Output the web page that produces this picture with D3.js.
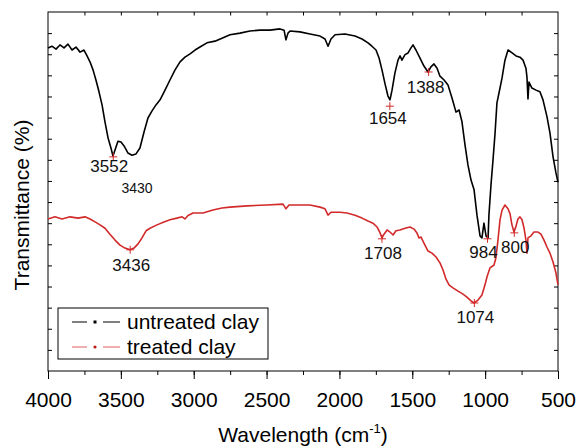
<!DOCTYPE html>
<html>
<head>
<meta charset="utf-8">
<script src="https://cdn.jsdelivr.net/npm/d3@7/dist/d3.min.js"></script>
<style>
  html, body { margin: 0; padding: 0; background: #fff; }
  svg { display: block; font-family: "Liberation Sans", Arial, sans-serif; }
</style>
</head>
<body>
<svg id="chart" width="576" height="446"></svg>
<script>
// FTIR spectra: wavenumber (cm-1) and transmittance (a.u.)
const untreatedWave = [4000,3973,3945,3918,3890,3863,3835,3808,3780,3753,3732,3712,3691,3671,3650,3629,3609,3588,3568,3554,3540,3520,3499,3478,3451,3424,3396,3369,3341,3314,3286,3259,3231,3197,3163,3128,3094,3060,3025,2991,2957,2909,2854,2806,2751,2682,2614,2545,2476,2408,2380,2367,2353,2339,2271,2202,2133,2099,2078,2058,2030,1962,1893,1845,1804,1777,1749,1728,1708,1687,1667,1653,1639,1619,1598,1584,1571,1550,1529,1509,1495,1475,1447,1420,1392,1372,1351,1330,1310,1282,1255,1227,1200,1179,1159,1138,1118,1097,1076,1056,1035,1022,1008,994,980,974,960,946,932,919,898,884,864,843,815,788,761,740,720,713,706,699,679,651,624,603,575,555,534,514,500];
const untreatedT = [76.5,76.9,76.2,77.2,76.5,77.4,76.0,76.7,75.5,76.0,74.6,73.2,71.3,68.9,66.1,63.0,59.0,55.2,52.8,50.9,52.3,54.4,54.2,53.3,51.6,51.1,51.4,52.8,56.6,59.9,61.6,63.0,64.2,66.5,68.9,71.3,73.2,74.3,75.1,76.0,76.7,77.7,78.1,78.8,79.6,80.0,80.5,80.7,80.7,81.0,80.7,78.4,80.0,80.5,80.3,79.8,79.3,78.6,76.9,78.6,79.6,79.8,79.3,78.6,77.7,76.9,76.0,74.1,71.3,68.0,65.1,64.2,66.5,70.6,73.6,74.6,73.6,74.9,75.3,76.5,77.2,76.0,74.1,72.2,70.8,72.0,72.7,71.7,69.8,68.9,67.7,64.6,61.3,61.8,59.0,53.5,48.8,45.2,42.9,36.9,32.0,31.5,35.0,32.0,31.5,36.9,44.0,50.0,56.3,63.5,67.0,69.4,73.6,76.0,75.3,74.6,74.3,73.6,71.7,69.6,64.4,68.4,67.0,66.5,66.1,64.2,60.1,56.3,50.7,46.9,44.7];

const treatedWave = [4000,3952,3904,3849,3794,3746,3712,3677,3643,3609,3575,3540,3506,3472,3437,3410,3382,3355,3327,3300,3252,3204,3163,3115,3080,3060,3039,3005,2936,2868,2806,2751,2634,2497,2387,2367,2346,2271,2202,2133,2099,2078,2058,1996,1948,1893,1845,1804,1770,1742,1721,1708,1694,1673,1653,1632,1612,1584,1550,1516,1488,1468,1454,1440,1420,1392,1365,1337,1310,1289,1269,1248,1221,1186,1152,1125,1097,1076,1049,1022,1001,987,967,939,926,912,898,884,864,843,829,816,802,788,775,761,747,733,720,713,706,685,665,637,617,596,575,555,534,514,500];
const treatedT = [36.0,36.5,36.0,36.5,36.2,36.5,36.0,35.3,34.6,33.8,32.4,31.0,29.8,29.1,28.7,29.1,30.1,31.5,33.2,33.8,34.6,35.3,35.8,36.2,36.5,36.0,36.8,37.4,37.4,38.1,38.6,38.8,39.1,39.3,39.5,38.4,39.3,39.3,39.3,38.8,38.4,36.9,37.6,37.6,37.4,36.9,36.2,35.5,35.0,34.1,32.7,31.5,32.4,33.4,32.9,32.2,33.2,33.4,33.8,34.1,33.6,32.7,31.5,31.7,30.3,28.4,27.9,27.0,25.6,23.9,21.8,20.4,19.7,18.9,18.2,17.5,16.6,16.1,16.8,18.0,20.4,22.3,24.4,25.1,26.8,31.0,35.8,38.1,39.3,38.4,37.2,34.6,32.9,34.3,36.0,36.5,35.8,33.8,31.0,27.9,31.5,32.0,32.9,32.9,32.4,31.0,29.3,27.9,25.8,23.2,20.4];

// Assigned bands: wavenumber and transmittance at the marker
const untreatedPeakWave = [3552, 1654, 1388, 984];
const untreatedPeakT = [50.7, 62.7, 70.8, 31.3];
const treatedPeakWave = [3436, 1708, 1074, 800];
const treatedPeakT = [28.7, 31.3, 16.1, 32.7];
// band label placed under the broad OH minimum without a marker
const extraLabelWave = [3430];
const extraLabelT = [51.1];

const xTicks = [4000, 3500, 3000, 2500, 2000, 1500, 1000, 500];
const seriesNames = ["untreated clay", "treated clay"];

// ---- layout & style ----
const margin = { left: 48, top: 12, right: 18, bottom: 75 };
const W = 576, H = 446;
const iw = W - margin.left - margin.right;   // 510
const ih = H - margin.top - margin.bottom;   // 359
const black = "#000000";
const red = "#d22a2a";
const labelFont = 17;

const svg = d3.select("#chart");
const g = svg.append("g").attr("transform", `translate(${margin.left},${margin.top})`);

const x = d3.scaleLinear().domain([4000, 500]).range([0, iw]);
const y = d3.scaleLinear().domain([0, 85]).range([ih, 0]);

// frame
g.append("rect").attr("x", 0).attr("y", 0).attr("width", iw).attr("height", ih)
  .attr("fill", "none").attr("stroke", "#000").attr("stroke-width", 1);

// bottom axis: major labelled ticks + minor ticks, outward
const minorX = d3.range(4000, 499, -250);
g.append("g").attr("transform", `translate(0,${ih})`)
  .call(d3.axisBottom(x).tickValues(minorX).tickSize(4).tickFormat(""))
  .call(a => a.select(".domain").remove());
const bottomAxis = g.append("g").attr("transform", `translate(0,${ih})`)
  .call(d3.axisBottom(x).tickValues(xTicks).tickSize(8).tickPadding(13).tickFormat(d3.format("d")));
bottomAxis.select(".domain").remove();
bottomAxis.selectAll("text").attr("font-size", 21).attr("font-family", "Liberation Sans, Arial, sans-serif").attr("fill", "#000");

// top axis: inward ticks
g.append("g")
  .call(d3.axisTop(x).tickValues(minorX.slice(1, -1)).tickSize(-3.5).tickFormat(""))
  .call(a => a.select(".domain").remove());

// left and right axes: inward ticks, no labels
const yTickVals = d3.range(5, 85, 5);
g.append("g")
  .call(d3.axisLeft(y).tickValues(yTickVals).tickSize(-4).tickFormat(""))
  .call(a => a.select(".domain").remove());
g.append("g").attr("transform", `translate(${iw},0)`)
  .call(d3.axisRight(y).tickValues(yTickVals).tickSize(-4).tickFormat(""))
  .call(a => a.select(".domain").remove());

// spectra
const line = d3.line().x(d => x(d[0])).y(d => y(d[1])).curve(d3.curveLinear);
const untreated = untreatedWave.map((w, i) => [w, untreatedT[i]]);
const treated = treatedWave.map((w, i) => [w, treatedT[i]]);

g.append("path").datum(treated).attr("d", line)
  .attr("fill", "none").attr("stroke", red).attr("stroke-width", 1.6).attr("stroke-linejoin", "round");
g.append("path").datum(untreated).attr("d", line)
  .attr("fill", "none").attr("stroke", black).attr("stroke-width", 1.6).attr("stroke-linejoin", "round");

// band markers (+) and labels
const labelNudge = {
  3552: [-4, 15], 1654: [-2, 18], 1388: [-3, 21], 984: [-4, 19],
  3436: [1, 21], 1708: [1, 20], 1074: [1, 20], 800: [1, 20]
};
const peaks = untreatedPeakWave.map((w, i) => ({ w, t: untreatedPeakT[i] }))
  .concat(treatedPeakWave.map((w, i) => ({ w, t: treatedPeakT[i] })));

const mk = g.append("g").attr("stroke", red).attr("stroke-width", 1);
peaks.forEach(p => {
  const px = x(p.w), py = y(p.t);
  mk.append("line").attr("x1", px - 4).attr("x2", px + 4).attr("y1", py).attr("y2", py);
  mk.append("line").attr("x1", px).attr("x2", px).attr("y1", py - 4).attr("y2", py + 4);
  const [dx, dy] = labelNudge[p.w];
  g.append("text").attr("x", px + dx).attr("y", py + dy)
    .attr("text-anchor", "middle").attr("font-size", labelFont).attr("fill", "#111")
    .text(p.w);
});
extraLabelWave.forEach((w, i) => {
  g.append("text").attr("x", x(w) + 6).attr("y", y(extraLabelT[i]) + 38)
    .attr("text-anchor", "middle").attr("font-size", 14).attr("fill", "#111")
    .text(w);
});

// legend
const lg = svg.append("g").attr("transform", "translate(58,308)");
lg.append("rect").attr("x", 0).attr("y", 0).attr("width", 210).attr("height", 51)
  .attr("fill", "#fff").attr("stroke", "#000").attr("stroke-width", 1);
const legendRows = [
  { name: seriesNames[0], lineColor: black, markColor: black, square: true },
  { name: seriesNames[1], lineColor: "#e06060", markColor: "#c01818", square: false }
];
legendRows.forEach((r, i) => {
  const cy = 14 + i * 25;
  lg.append("line").attr("x1", 14).attr("x2", 29).attr("y1", cy).attr("y2", cy)
    .attr("stroke", r.lineColor).attr("stroke-width", 1);
  lg.append("line").attr("x1", 45).attr("x2", 62).attr("y1", cy).attr("y2", cy)
    .attr("stroke", r.lineColor).attr("stroke-width", 1);
  if (r.square) {
    lg.append("rect").attr("x", 35.5).attr("y", cy - 1.5).attr("width", 3).attr("height", 3).attr("fill", r.markColor);
  } else {
    lg.append("circle").attr("cx", 37).attr("cy", cy).attr("r", 1.6).attr("fill", r.markColor);
  }
  lg.append("text").attr("x", 69).attr("y", cy + 7).attr("font-size", 21).attr("fill", "#000").text(r.name);
});

// axis titles
const xt = svg.append("text").attr("x", 303).attr("y", 442)
  .attr("text-anchor", "middle").attr("font-size", 21).attr("fill", "#000");
xt.append("tspan").text("Wavelength (cm");
xt.append("tspan").attr("font-size", 13).attr("dy", -9).text("-1");
xt.append("tspan").attr("dy", 9).text(")");

svg.append("text").attr("transform", "translate(29,205) rotate(-90)")
  .attr("text-anchor", "middle").attr("font-size", 21).attr("fill", "#000")
  .text("Transmittance (%)");
</script>
</body>
</html>
